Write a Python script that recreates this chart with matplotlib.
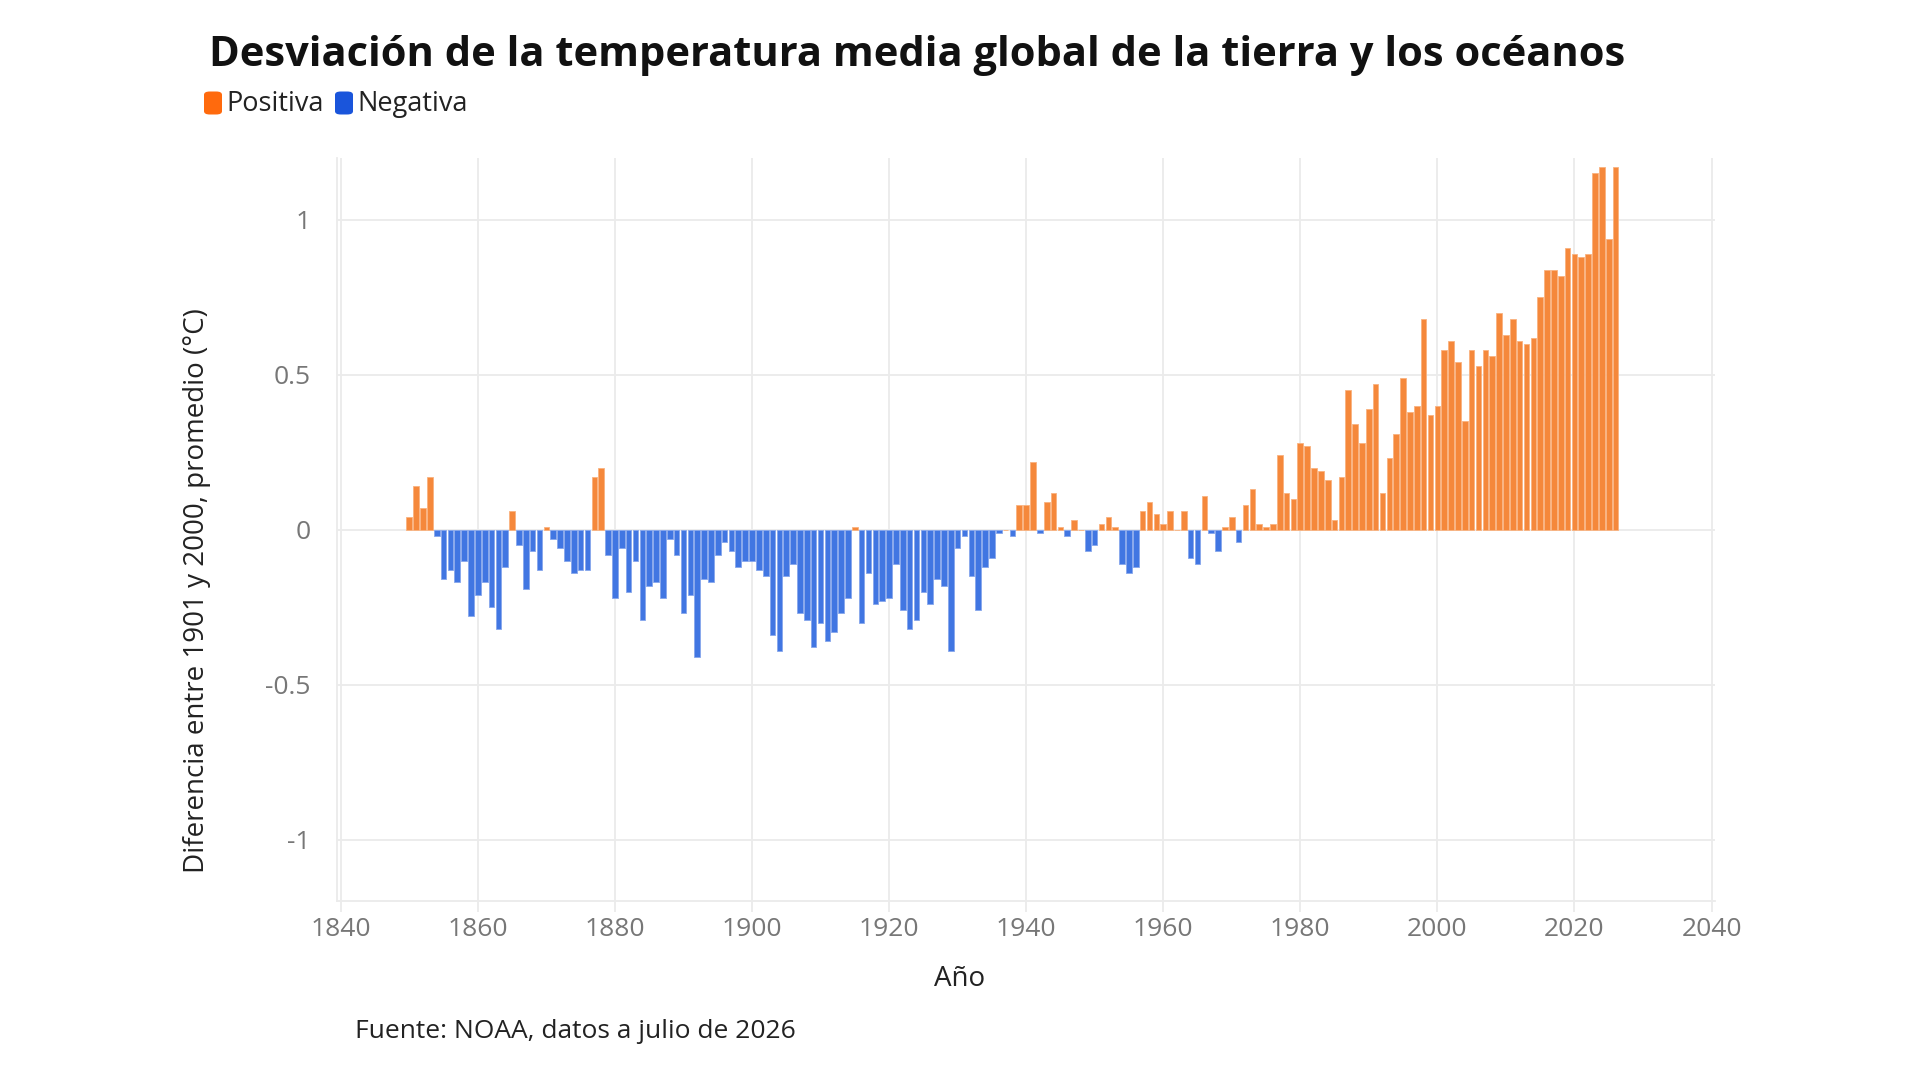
import matplotlib
matplotlib.use('Agg')
import matplotlib.pyplot as plt
from matplotlib.patches import FancyBboxPatch
import numpy as np

# Annual anomaly vs 1901-2000 mean (degC)
years = list(range(1850, 2027))
anomaly_1850_1878 = [0.04, 0.14, 0.07, 0.17, -0.02, -0.16, -0.13, -0.17, -0.10, -0.28,
                     -0.21, -0.17, -0.25, -0.32, -0.12, 0.06, -0.05, -0.19, -0.07, -0.13,
                     0.01, -0.03, -0.06, -0.10, -0.14, -0.13, -0.13, 0.17, 0.20]
anomaly_1879_1904 = [-0.08, -0.22, -0.06, -0.20, -0.10, -0.29, -0.18, -0.17, -0.22, -0.03,
                     -0.08, -0.27, -0.21, -0.41, -0.16, -0.17, -0.08, -0.04, -0.07, -0.12,
                     -0.10, -0.10, -0.13, -0.15, -0.34, -0.39]
anomaly_1905_1933 = [-0.15, -0.11, -0.27, -0.29, -0.38, -0.30, -0.36, -0.33, -0.27, -0.22,
                     0.01, -0.30, -0.14, -0.24, -0.23, -0.22, -0.11, -0.26, -0.32, -0.29,
                     -0.20, -0.24, -0.16, -0.18, -0.39, -0.06, -0.02, -0.15, -0.26]
anomaly_1934_1961 = [-0.12, -0.09, -0.01, 0.0, -0.02, 0.08, 0.08, 0.22, -0.01, 0.09,
                     0.12, 0.01, -0.02, 0.03, 0.0, -0.07, -0.05, 0.02, 0.04, 0.01,
                     -0.11, -0.14, -0.12, 0.06, 0.09, 0.05, 0.02, 0.06]
anomaly_1962_1993 = [0.0, 0.06, -0.09, -0.11, 0.11, -0.01, -0.07, 0.01, 0.04, -0.04,
                     0.08, 0.13, 0.02, 0.01, 0.02, 0.24, 0.12, 0.10, 0.28, 0.27,
                     0.20, 0.19, 0.16, 0.03, 0.17, 0.45, 0.34, 0.28, 0.39, 0.47,
                     0.12, 0.23]
anomaly_1994_2026 = [0.31, 0.49, 0.38, 0.40, 0.68, 0.37, 0.40, 0.58, 0.61, 0.54,
                     0.35, 0.58, 0.53, 0.58, 0.56, 0.70, 0.63, 0.68, 0.61, 0.60,
                     0.62, 0.75, 0.84, 0.84, 0.82, 0.91, 0.89, 0.88, 0.89, 1.15,
                     1.17, 0.94, 1.17]
anomaly = (anomaly_1850_1878 + anomaly_1879_1904 + anomaly_1905_1933
           + anomaly_1934_1961 + anomaly_1962_1993 + anomaly_1994_2026)

x_ticks = [1840, 1860, 1880, 1900, 1920, 1940, 1960, 1980, 2000, 2020, 2040]
y_ticks = [-1, -0.5, 0, 0.5, 1]
y_tick_labels = ['-1', '-0.5', '0', '0.5', '1']

bar_pos = '#F5883B'
bar_neg = '#4176E2'
legend_pos = '#FF6A0D'
legend_neg = '#1A55DB'
grid_col = '#EBEBEB'

plt.rcParams['font.family'] = ['Open Sans', 'DejaVu Sans']

fig = plt.figure(figsize=(19.2, 10.8), dpi=100)
ax = fig.add_axes([0.1757, 0.1653, 0.8932 - 0.1757, 0.8537 - 0.1653])

colors = [bar_pos if v >= 0 else bar_neg for v in anomaly]
edge = ['#F9B27F' if v >= 0 else '#86A6EC' for v in anomaly]
ax.bar(years, anomaly, width=0.82, color=colors, edgecolor=edge, linewidth=0.6, zorder=3)

ax.set_xlim(1839.5, 2040.5)
ax.set_ylim(-1.2, 1.2)
ax.set_xticks(x_ticks)
ax.set_yticks(y_ticks)
ax.set_yticklabels(y_tick_labels)
ax.grid(True, color=grid_col, linewidth=1.3, zorder=0)
for s in ['top', 'right']:
    ax.spines[s].set_visible(False)
for s in ['left', 'bottom']:
    ax.spines[s].set_color(grid_col)
    ax.spines[s].set_linewidth(1.3)
ax.tick_params(axis='x', length=8, width=1.3, color=grid_col, labelsize=19,
               labelcolor='#777777', pad=3)
ax.tick_params(axis='y', length=0, labelsize=19, labelcolor='#777777', pad=19)

ax.set_xlabel('Año', fontsize=20, color='#222222')
ax.xaxis.set_label_coords(0.452, -0.085)
ax.set_ylabel('Diferencia entre 1901 y 2000, promedio (°C)', fontsize=20,
              color='#222222')
ax.yaxis.set_label_coords(-0.092, 0.418)

fig.text(0.1089, 0.949, 'Desviación de la temperatura media global de la tierra y los océanos',
         fontsize=30, fontweight='bold', color='#111111', va='center', ha='left')

# legend drawn by hand with rounded squares
for x0, col, label in [(204, legend_pos, 'Positiva'), (335, legend_neg, 'Negativa')]:
    fig.patches.append(FancyBboxPatch((x0 / 1920, 1 - 114.5 / 1080), 18 / 1920, 23 / 1080,
                                      boxstyle='round,pad=0,rounding_size=0.003',
                                      transform=fig.transFigure, facecolor=col,
                                      edgecolor='none'))
    fig.text((x0 + 22) / 1920, 1 - 104 / 1080, label, fontsize=19.5, color='#222222',
             va='center', ha='left')

fig.text(355 / 1920, 1 - 1032 / 1080, 'Fuente: NOAA, datos a julio de 2026',
         fontsize=19, color='#222222', va='center', ha='left')

fig.savefig('out.png', dpi=100, facecolor='white')
